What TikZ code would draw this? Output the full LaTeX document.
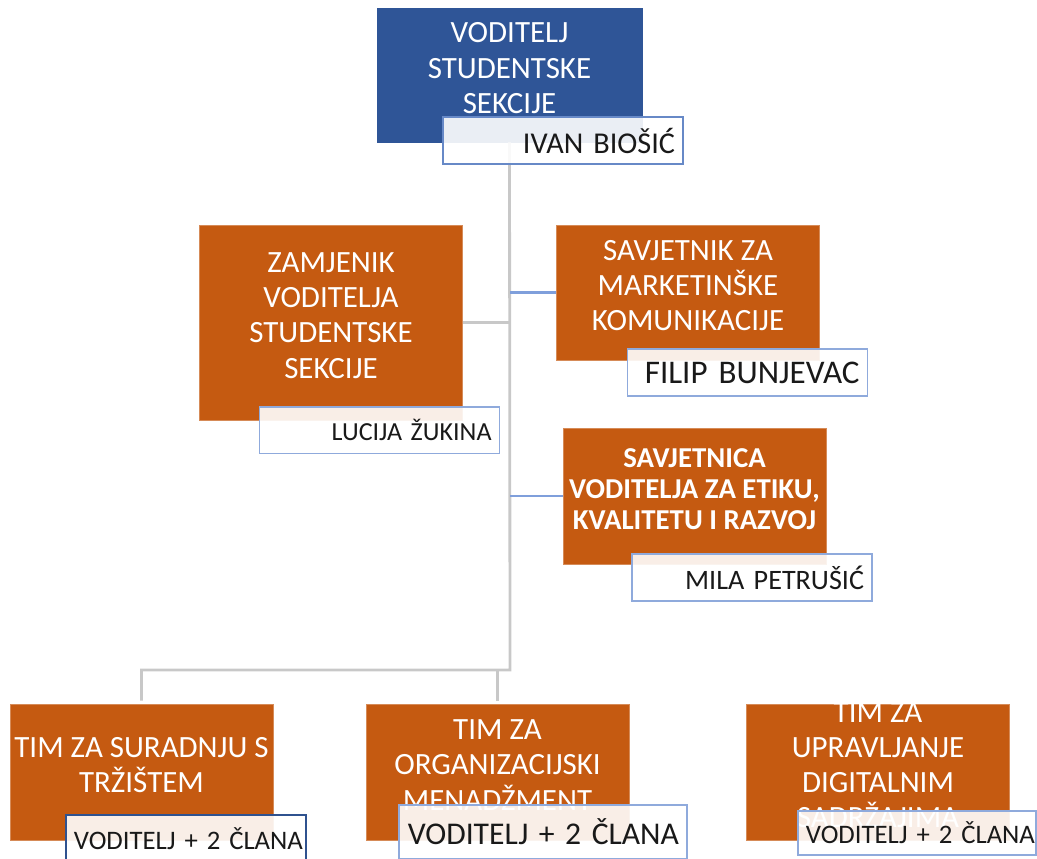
\documentclass[tikz,border=0pt]{standalone}
\usepackage{fontspec}
\setmainfont{Carlito}
\definecolor{bossblue}{HTML}{2F5597}
\definecolor{teamorange}{HTML}{C55A11}
\definecolor{namerim}{HTML}{8FAADC}
\definecolor{darkrim}{HTML}{2F528F}
\definecolor{linegray}{HTML}{C8C8C8}
\definecolor{lineblue}{HTML}{7F9FDB}
\tikzset{
  orgbox/.style={fill=teamorange, draw=teamorange!70!white, line width=.4pt,
    text=white, align=center, inner sep=0pt, minimum width=6.575cm,
    text depth=10pt, font=\fontsize{22}{25}\selectfont},
  orgtext/.style={text=white, align=center, inner sep=0pt,
    text depth=10pt, font=\fontsize{22}{25}\selectfont},
  namebox/.style={draw=namerim, line width=1.3pt, fill=white, fill opacity=.9,
    text opacity=1, text=black!90, text width=5.6cm, align=right,
    inner xsep=.2cm, inner ysep=0pt, minimum height=1.17cm},
  gray link/.style={linegray, line width=2pt},
  blue link/.style={lineblue, line width=1.5pt}
}
\begin{document}
\begin{tikzpicture}[x=0.025cm,y=-0.025cm]
\clip (0,0) rectangle (1037,858);
\node[orgbox, fill=bossblue, draw=bossblue, minimum width=6.625cm, minimum height=3.35cm] (boss) at (509.5,75) {VODITELJ\\STUDENTSKE\\SEKCIJE};
\node[orgbox, minimum height=4.875cm] (deputy) at (331,322.5) {ZAMJENIK\\VODITELJA\\STUDENTSKE\\SEKCIJE};
\node[orgbox, minimum height=3.375cm] (marketing) at (688,292.5) {SAVJETNIK ZA\\MARKETINŠKE\\KOMUNIKACIJE};
\node[orgbox, minimum height=3.4cm, font=\fontsize{20.5}{22}\selectfont\bfseries] (ethics) at (694.5,496) {SAVJETNICA\\VODITELJA ZA ETIKU,\\KVALITETU I RAZVOJ};
\node[orgbox, minimum height=3.4cm] (team1) at (141.5,772) {TIM ZA SURADNJU S\\TRŽIŠTEM};
\node[orgbox, minimum height=3.4cm] (team2) at (497.5,772) {};
\node[orgtext] (team2txt) at (team2) {TIM ZA\\ORGANIZACIJSKI\\MENADŽMENT};
\node[orgbox, minimum height=3.4cm] (team3) at (878,772) {};
\begin{scope}
\clip (team3.north west) rectangle (team3.south east);
\node[orgtext] (team3txt) at (team3) {TIM ZA\\UPRAVLJANJE\\DIGITALNIM\\SADRŽAJIMA};
\end{scope}
% connectors
\coordinate (hub) at (510,670);
\draw[gray link, shorten >=.08cm] (boss.south) -- (hub) -| (team1.north);
\draw[gray link, shorten >=.08cm] (hub -| team2.north) -- (team2.north);
\draw[gray link] (deputy.east) -- (deputy.east -| hub);
\draw[blue link] (marketing.west -| hub) -- (marketing.west);
\draw[blue link] (ethics.west -| hub) -- (ethics.west);
% name boxes
\node[namebox, draw=lineblue!70!bossblue, font=\fontsize{21.5}{24}\selectfont] (bossname) at (563,140.5) {IVAN BIOŠIĆ};
\node[namebox, font=\fontsize{18.5}{22}\selectfont] (deputyname) at (379.5,430) {LUCIJA ŽUKINA};
\node[namebox, font=\fontsize{23.5}{26}\selectfont] (marketingname) at (747.5,372.5) {FILIP BUNJEVAC};
\node[namebox, font=\fontsize{20}{24}\selectfont] (ethicsname) at (752,577.5) {MILA PETRUŠIĆ};
\node[namebox, draw=darkrim, font=\fontsize{19}{22}\selectfont] (team1name) at (186,838.5) {\mbox{VODITELJ + 2 ČLANA}};
\node[namebox, text width=6.8cm, minimum height=1.35cm, font=\fontsize{22.5}{26}\selectfont] (team2name) at (543,832) {\mbox{VODITELJ + 2 ČLANA}};
\node[namebox, text width=5.55cm, minimum height=1.1cm, font=\fontsize{19}{22}\selectfont] (team3name) at (917,833) {\mbox{VODITELJ + 2 ČLANA}};
\end{tikzpicture}
\end{document}
